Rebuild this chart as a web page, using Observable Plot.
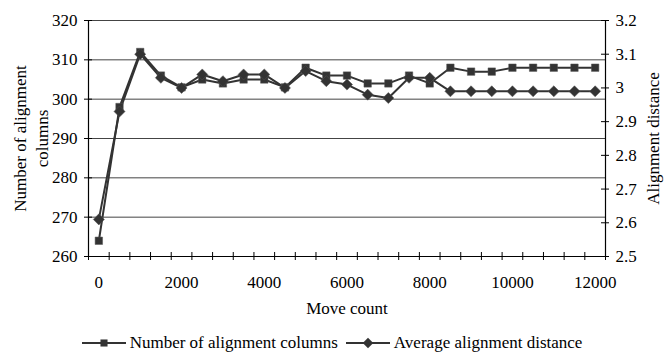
<!DOCTYPE html>
<html>
<head>
<meta charset="utf-8">
<script src="https://cdn.jsdelivr.net/npm/d3@7"></script>
<script src="https://cdn.jsdelivr.net/npm/@observablehq/plot@0.6"></script>
<style>
  html, body { margin: 0; padding: 0; background: #fff; }
  #wrap { width: 664px; font-family: "Liberation Serif", "Times New Roman", Times, serif; }
  .legend { height: 34px; display: flex; justify-content: center; align-items: center; font-size: 17px; color: #000; }
  .legend .item { display: flex; align-items: center; }
  .legend svg { margin-right: 4px; }
  .legend .gap { width: 8px; }
</style>
</head>
<body>
<div id="wrap"></div>
<script>
// ---- data ----
const moves = [0, 500, 1000, 1500, 2000, 2500, 3000, 3500, 4000, 4500, 5000, 5500, 6000,
               6500, 7000, 7500, 8000, 8500, 9000, 9500, 10000, 10500, 11000, 11500, 12000];
const columns = [264, 298, 312, 306, 303, 305, 304, 305, 305, 303, 308, 306, 306,
                 304, 304, 306, 304, 308, 307, 307, 308, 308, 308, 308, 308];
const distance = [2.61, 2.93, 3.10, 3.03, 3.00, 3.04, 3.02, 3.04, 3.04, 3.00, 3.05, 3.02, 3.01,
                  2.98, 2.97, 3.03, 3.03, 2.99, 2.99, 2.99, 2.99, 2.99, 2.99, 2.99, 2.99];
const leftTicks = [260, 270, 280, 290, 300, 310, 320];
const rightTicks = [2.5, 2.6, 2.7, 2.8, 2.9, 3.0, 3.1, 3.2];
const xTickLabels = [0, 2000, 4000, 6000, 8000, 10000, 12000];
const seriesNames = ["Number of alignment columns", "Average alignment distance"];
const xTitle = "Move count";
const yTitleLeft = "Number of alignment\ncolumns";
const yTitleRight = "Alignment distance";

// ---- derived ----
const step = moves[1] - moves[0];
const xDomain = [moves[0] - step / 2, moves[moves.length - 1] + step / 2];
const yDomain = [leftTicks[0], leftTicks[leftTicks.length - 1]];
const rDomain = [rightTicks[0], rightTicks[rightTicks.length - 1]];
const k = (yDomain[1] - yDomain[0]) / (rDomain[1] - rDomain[0]);
const toLeft = d => yDomain[0] + (d - rDomain[0]) * k;
const fromLeft = v => rDomain[0] + (v - yDomain[0]) / k;
const boundaries = [xDomain[0], ...moves.map(m => m + step / 2)];

const colData = moves.map((m, i) => ({move: m, value: columns[i]}));
const distData = moves.map((m, i) => ({move: m, value: distance[i]}));

const INK = "#333";
const FONT = "'Liberation Serif', 'Times New Roman', Times, serif";

const chart = Plot.plot({
  width: 664,
  height: 326,
  marginLeft: 88,
  marginRight: 59,
  marginTop: 20,
  marginBottom: 70,
  style: {fontFamily: FONT, fontSize: "17px", color: "#000", background: "#fff", overflow: "visible"},
  x: {domain: xDomain, axis: null, label: null},
  y: {domain: yDomain, axis: null, label: null},
  marks: [
    // horizontal gridlines
    Plot.ruleY(leftTicks.slice(1), {stroke: "#444", strokeWidth: 1}),
    // axis lines
    Plot.ruleY([yDomain[0]], {stroke: "#000", strokeWidth: 1.2}),
    Plot.ruleX([xDomain[0]], {stroke: "#000", strokeWidth: 1.2}),
    Plot.ruleX([xDomain[1]], {stroke: "#000", strokeWidth: 1.2}),
    // cross tick marks
    Plot.ruleX(boundaries, {x: d => d, y1: yDomain[0], y2: yDomain[0], insetTop: -4, insetBottom: -4, stroke: "#000"}),
    Plot.ruleY(leftTicks, {y: d => d, x1: xDomain[0], x2: xDomain[0], insetLeft: -4, insetRight: -4, stroke: "#000"}),
    Plot.ruleY(rightTicks, {y: d => toLeft(d), x1: xDomain[1], x2: xDomain[1], insetLeft: -4, insetRight: -4, stroke: "#000"}),
    // tick labels
    Plot.axisY(leftTicks, {anchor: "left", label: null, tickSize: 0, tickPadding: 11, fontSize: 17}),
    Plot.axisY(rightTicks.map(toLeft), {anchor: "right", label: null, tickSize: 0, tickPadding: 10, fontSize: 17,
      tickFormat: v => String(+fromLeft(v).toFixed(1))}),
    Plot.axisX(xTickLabels, {anchor: "bottom", label: null, tickSize: 0, tickPadding: 19, fontSize: 17, tickFormat: d => String(d)}),
    // titles
    Plot.text([xTitle], {frameAnchor: "bottom", dy: 57, text: d => d, fontSize: 17}),
    Plot.text([yTitleLeft], {frameAnchor: "left", textAnchor: "middle", dx: -59, rotate: -90, lineHeight: 1.3, text: d => d, fontSize: 17}),
    Plot.text([yTitleRight], {frameAnchor: "right", textAnchor: "middle", dx: 48, rotate: -90, text: d => d, fontSize: 17}),
    // series
    Plot.line(colData, {x: "move", y: "value", stroke: INK, strokeWidth: 2}),
    Plot.line(distData, {x: "move", y: d => toLeft(d.value), stroke: INK, strokeWidth: 2}),
    Plot.dot(colData, {x: "move", y: "value", symbol: "square", r: 4.2, fill: INK, stroke: "#555", strokeWidth: 0.5}),
    Plot.dot(distData, {x: "move", y: d => toLeft(d.value), symbol: "diamond2", r: 5, fill: INK, stroke: "#555", strokeWidth: 0.5})
  ]
});

const wrap = document.getElementById("wrap");
wrap.appendChild(chart);

// legend below the SVG
const legend = document.createElement("div");
legend.className = "legend";
function glyph(symbol) {
  const s = d3.create("svg").attr("width", 44).attr("height", 14);
  s.append("line").attr("x1", 0).attr("x2", 44).attr("y1", 7).attr("y2", 7).attr("stroke", INK).attr("stroke-width", 2);
  s.append("path").attr("transform", "translate(22,7)")
    .attr("d", d3.symbol(symbol === "square" ? d3.symbolSquare : d3.symbolDiamond2, symbol === "square" ? 50 : 70)())
    .attr("fill", INK);
  return s.node();
}
seriesNames.forEach((name, i) => {
  if (i > 0) { const g = document.createElement("span"); g.className = "gap"; legend.appendChild(g); }
  const item = document.createElement("span");
  item.className = "item";
  item.appendChild(glyph(i === 0 ? "square" : "diamond"));
  const t = document.createElement("span");
  t.textContent = name;
  item.appendChild(t);
  legend.appendChild(item);
});
wrap.appendChild(legend);
</script>
</body>
</html>
